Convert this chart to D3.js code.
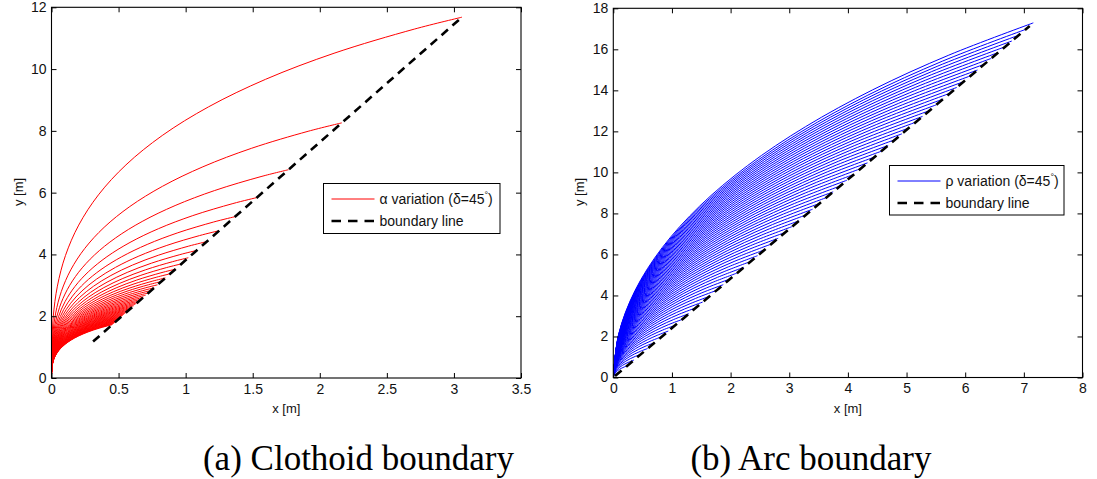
<!DOCTYPE html>
<html><head><meta charset="utf-8">
<script src="https://cdn.jsdelivr.net/npm/d3@7"></script>
<style>body{margin:0;background:#fff;} svg{display:block;}</style>
</head><body>
<svg id="chart" width="1097" height="479"></svg>
<script>
// ---------- data ----------
// normalized clothoid shape (start heading north, turning 45 deg), end point = (1,1)
const clothoidShapeX = [0, 0.000529, 0.004245, 0.014332, 0.033963, 0.066287, 0.114405, 0.181311, 0.269826, 0.382506, 0.521478, 0.688341, 0.883951, 1];
const clothoidShapeY = [0, 0.08488, 0.16975, 0.25458, 0.33929, 0.42372, 0.50761, 0.59058, 0.67210, 0.75146, 0.82779, 0.90005, 0.96697, 1];
// end points of each alpha curve
const clothoidEndX = [3.060, 2.164, 1.767, 1.530, 1.368, 1.249, 1.157, 1.082, 1.020, 0.968, 0.923, 0.883, 0.849, 0.818, 0.790, 0.765, 0.742, 0.721, 0.702, 0.684, 0.668, 0.652, 0.638, 0.625, 0.612, 0.600, 0.589, 0.578, 0.568, 0.559, 0.550, 0.541, 0.533, 0.525, 0.517, 0.510, 0.503, 0.496, 0.490, 0.484, 0.478, 0.472, 0.467, 0.461, 0.456, 0.451];
const clothoidEndY = [11.680, 8.259, 6.743, 5.840, 5.223, 4.768, 4.415, 4.129, 3.893, 3.694, 3.522, 3.372, 3.239, 3.122, 3.016, 2.920, 2.833, 2.753, 2.680, 2.612, 2.549, 2.490, 2.435, 2.384, 2.336, 2.291, 2.248, 2.207, 2.169, 2.132, 2.098, 2.065, 2.033, 2.003, 1.974, 1.947, 1.920, 1.895, 1.870, 1.847, 1.824, 1.802, 1.781, 1.761, 1.741, 1.722];
const clothoidBoundaryX = [0.31, 3.06];
const clothoidBoundaryY = [1.18, 11.68];

// unit arc shape (radius 1, start heading north, 45 deg turn)
const arcShapeX = [0, 0.003805, 0.015192, 0.034074, 0.060307, 0.093692, 0.133975, 0.180848, 0.233956, 0.292893];
const arcShapeY = [0, 0.087156, 0.173648, 0.258819, 0.342020, 0.422618, 0.5, 0.573576, 0.642788, 0.707107];
const arcRadius = [0.4, 0.8, 1.2, 1.6, 2.0, 2.4, 2.8, 3.2, 3.6, 4.0, 4.4, 4.8, 5.2, 5.6, 6.0, 6.4, 6.8, 7.2, 7.6, 8.0, 8.4, 8.8, 9.2, 9.6, 10.0, 10.4, 10.8, 11.2, 11.6, 12.0, 12.4, 12.8, 13.2, 13.6, 14.0, 14.4, 14.8, 15.2, 15.6, 16.0, 16.4, 16.8, 17.2, 17.6, 18.0, 18.4, 18.8, 19.2, 19.6, 20.0, 20.4, 20.8, 21.2, 21.6, 22.0, 22.4, 22.8, 23.2, 23.6, 24.0, 24.45];
const arcBoundaryX = [0.03, 7.1];
const arcBoundaryY = [0.07, 17.14];

const leftXTicks = [0, 0.5, 1, 1.5, 2, 2.5, 3, 3.5];
const leftYTicks = [0, 2, 4, 6, 8, 10, 12];
const rightXTicks = [0, 1, 2, 3, 4, 5, 6, 7, 8];
const rightYTicks = [0, 2, 4, 6, 8, 10, 12, 14, 16, 18];

const xLabel = "x [m]";
const yLabel = "y [m]";
const captionA = "(a) Clothoid boundary";
const captionB = "(b) Arc boundary";

// ---------- drawing ----------
const svg = d3.select("#chart");
const FONT = "'Liberation Sans', Arial, Helvetica, sans-serif";

function panel(cfg) {
  const x = d3.scaleLinear().domain(cfg.xDomain).range([cfg.left, cfg.right]);
  const y = d3.scaleLinear().domain(cfg.yDomain).range([cfg.bottom, cfg.top]);
  const g = svg.append("g");
  const clipId = "clip" + cfg.id;
  svg.append("clipPath").attr("id", clipId).append("rect")
    .attr("x", cfg.left).attr("y", cfg.top)
    .attr("width", cfg.right - cfg.left).attr("height", cfg.bottom - cfg.top);

  const plot = g.append("g").attr("clip-path", `url(#${clipId})`);
  const line = d3.line().x(d => x(d[0])).y(d => y(d[1])).curve(d3.curveCatmullRom.alpha(0.5));

  cfg.curves.forEach(pts => {
    plot.append("path").attr("d", line(pts)).attr("fill", "none")
      .attr("stroke", cfg.color).attr("stroke-width", 1);
  });
  plot.append("path")
    .attr("d", d3.line().x(d => x(d[0])).y(d => y(d[1]))(cfg.boundary))
    .attr("fill", "none").attr("stroke", "#000").attr("stroke-width", 2.6)
    .attr("stroke-dasharray", "8.5,6");

  // axes
  const fmt = d => String(d);
  const styleAxis = sel => {
    sel.select(".domain").remove();
    sel.selectAll("line").attr("stroke", "#000");
    sel.selectAll("text").attr("font-family", FONT).attr("font-size", 14).attr("fill", "#111");
  };
  g.append("g").attr("transform", `translate(0,${cfg.bottom})`)
    .call(d3.axisBottom(x).tickValues(cfg.xTicks).tickFormat(fmt).tickSizeInner(-5).tickSizeOuter(0).tickPadding(6))
    .call(styleAxis);
  g.append("g").attr("transform", `translate(0,${cfg.top})`)
    .call(d3.axisTop(x).tickValues(cfg.xTicks).tickFormat("").tickSizeInner(-5).tickSizeOuter(0))
    .call(styleAxis);
  g.append("g").attr("transform", `translate(${cfg.left},0)`)
    .call(d3.axisLeft(y).tickValues(cfg.yTicks).tickFormat(fmt).tickSizeInner(-5).tickSizeOuter(0).tickPadding(5))
    .call(styleAxis);
  g.append("g").attr("transform", `translate(${cfg.right},0)`)
    .call(d3.axisRight(y).tickValues(cfg.yTicks).tickFormat("").tickSizeInner(-5).tickSizeOuter(0))
    .call(styleAxis);
  g.append("rect").attr("x", cfg.left).attr("y", cfg.top)
    .attr("width", cfg.right - cfg.left).attr("height", cfg.bottom - cfg.top)
    .attr("fill", "none").attr("stroke", "#000").attr("stroke-width", 1.1);

  // axis labels
  g.append("text").attr("x", (cfg.left + cfg.right) / 2).attr("y", 413)
    .attr("text-anchor", "middle").attr("font-family", FONT).attr("font-size", 13).attr("fill", "#111")
    .text(xLabel);
  g.append("text").attr("transform", `translate(${cfg.left - 29},192) rotate(-90)`)
    .attr("text-anchor", "middle").attr("font-family", FONT).attr("font-size", 13).attr("fill", "#111")
    .text(yLabel);

  // legend
  const L = cfg.legend;
  const lg = g.append("g");
  lg.append("rect").attr("x", L.x).attr("y", L.y).attr("width", L.w).attr("height", L.h)
    .attr("fill", "#fff").attr("stroke", "#000").attr("stroke-width", 1);
  lg.append("line").attr("x1", L.x + 8).attr("x2", L.x + 51).attr("y1", L.y + 15.5).attr("y2", L.y + 15.5)
    .attr("stroke", cfg.color).attr("stroke-width", 1);
  lg.append("line").attr("x1", L.x + 8).attr("x2", L.x + 51).attr("y1", L.y + 37.5).attr("y2", L.y + 37.5)
    .attr("stroke", "#000").attr("stroke-width", 2.6).attr("stroke-dasharray", "9.5,7");
  const t1 = lg.append("text").attr("x", L.x + 56).attr("y", L.y + 20.5)
    .attr("font-family", FONT).attr("font-size", 14).attr("fill", "#111");
  t1.append("tspan").text(L.label + " variation (\u03b4=45");
  t1.append("tspan").attr("dy", -6).attr("font-size", 9).text("\u00b0");
  t1.append("tspan").attr("dy", 6).text(")");
  lg.append("text").attr("x", L.x + 56).attr("y", L.y + 42.5)
    .attr("font-family", FONT).attr("font-size", 14).attr("fill", "#111").text("boundary line");

  // caption
  svg.append("text").attr("x", cfg.captionX).attr("y", 470).attr("text-anchor", "middle")
    .attr("font-family", "'Liberation Serif', 'Times New Roman', serif").attr("font-size", 35)
    .attr("fill", "#000").text(cfg.caption);
}

const clothoidCurves = clothoidEndX.map((ex, i) =>
  clothoidShapeX.map((sx, j) => [sx * ex, clothoidShapeY[j] * clothoidEndY[i]]));
const arcCurves = arcRadius.map(r => arcShapeX.map((sx, j) => [sx * r, arcShapeY[j] * r]));

panel({
  id: "a", xDomain: [0, 3.5], yDomain: [0, 12], left: 51.5, right: 521, top: 7.3, bottom: 378,
  xTicks: leftXTicks, yTicks: leftYTicks, color: "#ff0000",
  curves: clothoidCurves, boundary: clothoidBoundaryX.map((v, i) => [v, clothoidBoundaryY[i]]),
  legend: {x: 323.5, y: 183.5, w: 176.5, h: 50, label: "\u03b1"},
  caption: captionA, captionX: 358.5
});
panel({
  id: "b", xDomain: [0, 8], yDomain: [0, 18], left: 613.3, right: 1082.5, top: 8.3, bottom: 377.5,
  xTicks: rightXTicks, yTicks: rightYTicks, color: "#0000ff",
  curves: arcCurves, boundary: arcBoundaryX.map((v, i) => [v, arcBoundaryY[i]]),
  legend: {x: 889.5, y: 165.5, w: 174.5, h: 49.5, label: "\u03c1"},
  caption: captionB, captionX: 811
});
</script>
</body></html>
